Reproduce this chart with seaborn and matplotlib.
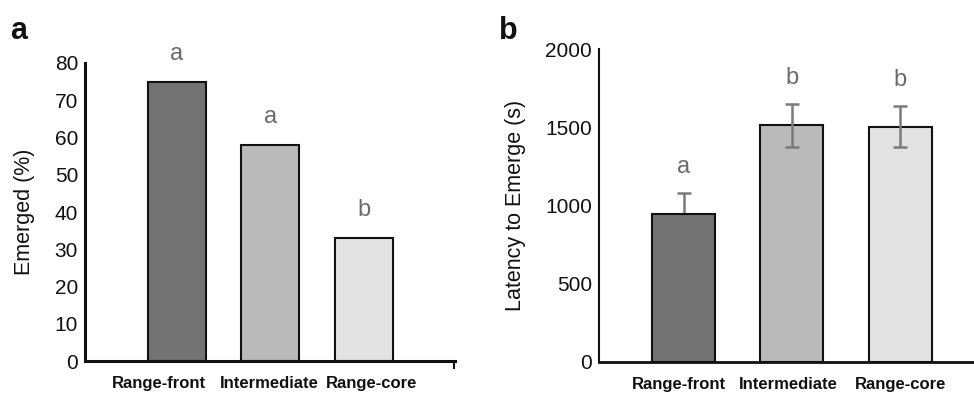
import matplotlib
matplotlib.use("Agg")
import matplotlib.pyplot as plt
import matplotlib.transforms as mtransforms
import seaborn as sns
import pandas as pd

sns.set_theme(style="white")
plt.rcParams['font.family'] = ['Liberation Sans', 'DejaVu Sans']

categories = ["Range-front", "Intermediate", "Range-core"]
emerged_pct = [75, 58, 33]
emerged_letters = ["a", "a", "b"]
latency = [945, 1513, 1504]
latency_err = [132, 137, 130]
latency_letters = ["a", "b", "b"]
bar_colors = ["#737373", "#bababa", "#e3e3e3"]
err_on_top = [False, True, True]

letter_color = "#6b6b6b"

fig = plt.figure(figsize=(9.74, 3.93), dpi=100)
ax_a = fig.add_axes([0.0873, 0.0814, 0.3797, 0.7583])
ax_b = fig.add_axes([0.615, 0.0796, 0.385, 0.7957])

df_a = pd.DataFrame({"cat": categories, "val": emerged_pct})
df_b = pd.DataFrame({"cat": categories, "val": latency})

sns.barplot(data=df_a, x="cat", y="val", hue="cat", palette=bar_colors,
            order=categories, hue_order=categories, legend=False,
            width=0.62, edgecolor="#111111", linewidth=1.5, ax=ax_a, zorder=2)
sns.barplot(data=df_b, x="cat", y="val", hue="cat", palette=bar_colors,
            order=categories, hue_order=categories, legend=False,
            width=0.58, edgecolor="#111111", linewidth=1.5, ax=ax_b, zorder=2)

for i, (v, e) in enumerate(zip(latency, latency_err)):
    ax_b.errorbar([i], [v], yerr=[e], fmt="none",
                  ecolor="#7a7a7a", elinewidth=1.8, capsize=5, capthick=1.8,
                  zorder=5 if err_on_top[i] else 1)

for i, (v, l) in enumerate(zip(emerged_pct, emerged_letters)):
    ax_a.text(i, v + 4.5, l, ha="center", va="bottom", fontsize=17, color=letter_color)
for i, (v, e, l) in enumerate(zip(latency, latency_err, latency_letters)):
    ax_b.text(i, v + e + 95, l, ha="center", va="bottom", fontsize=17, color=letter_color)

ax_a.set_xlim(-0.98, 2.97)
ax_a.set_ylim(0, 80)
ax_a.set_yticks(range(0, 81, 10))
ax_b.set_xlim(-0.78, 2.68)
ax_b.set_ylim(0, 2000)
ax_b.set_yticks(range(0, 2001, 500))

for ax in (ax_a, ax_b):
    ax.set_xlabel("")
    sns.despine(ax=ax)
    ax.spines["left"].set_color("#111111")
    ax.spines["bottom"].set_color("#111111")
    ax.tick_params(axis="y", length=0, labelsize=15, pad=5, labelcolor="#111111")
    ax.tick_params(axis="x", length=0, labelsize=12, pad=11, labelcolor="#111111")
    for t in ax.get_xticklabels():
        t.set_fontweight("bold")

# small end tick on the right of panel a's x axis
ax_a.set_xticks([2.965], minor=True)
ax_a.tick_params(axis="x", which="minor", bottom=True, length=6, width=1.5,
                 color="#111111", direction="out")

# shift x tick labels slightly as in the original layout
label_shift_a = [-18, -1, 8]
label_shift_b = [-5, -4, 0]
for ax, shifts in ((ax_a, label_shift_a), (ax_b, label_shift_b)):
    for t, dx in zip(ax.get_xticklabels(), shifts):
        t.set_transform(t.get_transform() + mtransforms.ScaledTranslation(dx / 100, 0, fig.dpi_scale_trans))

ax_a.spines["left"].set_linewidth(2.2)
ax_a.spines["bottom"].set_linewidth(2.2)
ax_b.spines["left"].set_linewidth(1.5)
ax_b.spines["bottom"].set_linewidth(2.0)

ax_a.set_ylabel("Emerged (%)", fontsize=15.5, color="#111111", labelpad=14)
ax_b.set_ylabel("Latency to Emerge (s)", fontsize=15.5, color="#111111", labelpad=14)

fig.text(0.010, 0.90, "a", fontsize=22, fontweight="bold", color="#111111")
fig.text(0.512, 0.90, "b", fontsize=22, fontweight="bold", color="#111111")

fig.savefig("out.png", dpi=100)
